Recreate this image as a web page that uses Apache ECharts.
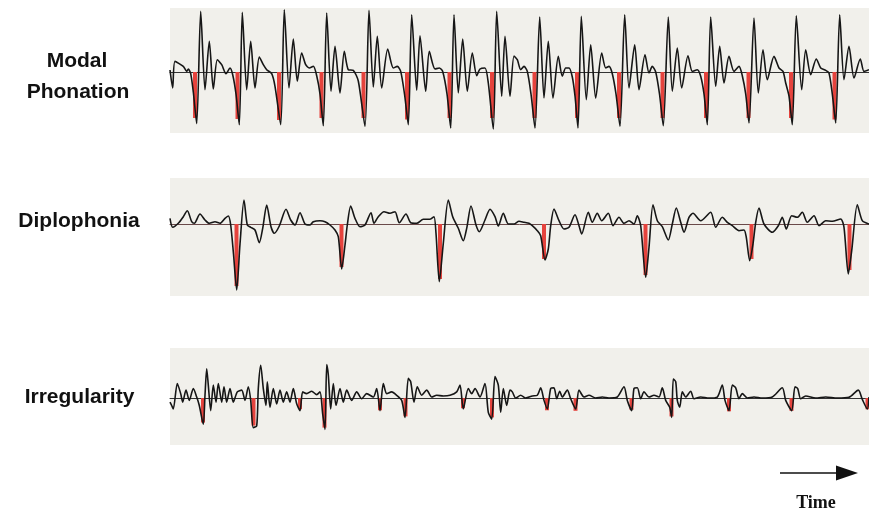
<!DOCTYPE html>
<html>
<head>
<meta charset="utf-8">
<script src="https://cdn.jsdelivr.net/npm/echarts@6/dist/echarts.min.js"></script>
<style>html,body{margin:0;padding:0;background:#fff}#c{width:869px;height:512px}</style>
</head>
<body>
<div id="c"></div>
<script>
// Panel labels
const panelLabels = [["Modal", "Phonation"], ["Diplophonia"], ["Irregularity"]];
const timeLabel = "Time";

// Modal phonation waveform [time, amplitude]
const modalWave = [[170,2],[172.7,-16],[175,10.6],[183.3,5.6],[186.7,0.6],[188.3,3],[190.7,-1.7],[193.3,-20],[196.7,-51.7],[200.7,60.6],[205,-17.7],[209.3,30.6],[213.3,-17],[217.3,12.3],[221.7,7.3],[226,-1.7],[230,4],[232.7,-2.7],[236,-22],[239.3,-52.7],[242.3,59.6],[246.7,-17.7],[250.7,30.6],[255,-16],[259.3,15],[263.3,7.3],[266.7,2.3],[271.7,-1.7],[275,-14.3],[280.7,-52.7],[284.3,62.3],[289,-16],[293.3,33],[297.3,-9.3],[301.7,19],[305.7,7.3],[309.3,4],[313.3,5.7],[316.7,-3.7],[320,-22],[323.3,-53.7],[326.7,59],[331,-19.3],[335,25.6],[340,-21],[344.3,20.6],[348.3,2.3],[353.3,1.6],[358.3,-9],[365,-54.3],[369,61.6],[373.3,-15],[377.3,35.6],[381.7,-16],[387.7,23],[393.3,4],[397.3,5.6],[400.7,0.6],[404.5,-22],[408.3,-52.7],[411.7,57.3],[416.7,-18.3],[420,36.3],[425.7,-19.3],[429.3,20.6],[435,3],[439.3,4],[442.7,0.6],[447,-22],[450.7,-56],[454,57.3],[458.3,-21],[462.7,33],[467.3,-19.3],[472.3,19],[476.7,-3.7],[480,3],[485,4],[488.3,-11],[493.3,-57],[496.7,60.6],[501.7,-24.3],[505,35.6],[510,-24.3],[514,16],[517.3,12.3],[520.7,2.3],[524,5.6],[527.3,0.6],[531,-22],[535,-56],[539.7,55],[544,-26],[548.3,30.6],[553,-26],[558.3,15.6],[562.3,-4.3],[565.7,4],[569,4],[572.3,-5],[575,-24],[578,-56],[581.3,55.6],[586.3,-27.7],[590.7,27.3],[595.7,-26],[601.7,19],[605.7,4],[609,5.6],[612.3,-1.7],[616,-22],[620,-54.3],[624.7,57.3],[629,-16],[634.7,27.3],[639,-17.7],[645,17.3],[649,-1],[652.3,5.6],[655.7,0],[659.5,-22],[663.3,-53.7],[668.3,55],[672.3,-19.3],[677.3,24],[681.7,-16],[688,16.3],[692.3,0.6],[697.3,2.3],[700.7,-4.3],[704,-22],[707.3,-52.7],[710.7,55],[715.7,-14.3],[719.7,25.6],[724,-11],[729,15.6],[734,0.6],[739,5.6],[742.3,-3.7],[745.7,-22],[749,-51],[754,54],[758.3,-21],[763,22.3],[767.3,-7.7],[774,15.6],[779,4],[783,0.6],[785.7,-11],[789,-24],[792.3,-52.7],[796.3,56.3],[801.7,-17.7],[805.7,22.3],[810.7,-2.7],[816.3,13],[820.7,4],[825.7,1.6],[829,-1],[832.3,-22],[835.7,-51],[839.7,57.3],[844,-7.7],[849,25.6],[854,-6],[860.3,13],[864,0.6],[869,2.3]];
const modalSpikes = [[195,-46],[237.5,-47],[279,-48],[321.5,-46],[363.5,-46],[407,-47.5],[449.5,-46],[492,-46],[534.5,-46],[577,-46],[619,-46],[662.5,-46],[706,-46],[748.5,-46],[791,-46],[834.5,-47.5]];

// Diplophonia waveform
const diploWave = [[170,5.7],[172.7,-3.3],[178.3,0.7],[183.3,7.3],[187.3,13.3],[191.7,2.3],[194.3,0.7],[200,10],[205,4],[209.3,0.7],[215,2.3],[220,0.7],[225,5.7],[228.3,8],[230.7,-1],[233.5,-30],[236.7,-66],[240,-20],[244,24],[247.3,-1],[250.7,-3.3],[255,-6],[259.3,-18.7],[262.7,-4.3],[266.7,19],[271,-2.7],[274.3,-9.3],[279.3,-2],[286,14.7],[290.7,4],[295,-1],[300,11.3],[305,0],[310,-1],[313.3,2.3],[320,3.3],[325,2.3],[330,-1],[335,-6],[338.3,-12.7],[341.7,-45],[345,-21],[347.3,-1],[350.7,18],[355,5.7],[360,-2.7],[365,-1],[371,11.3],[374,0.7],[378.3,7.3],[384,12.3],[390,10.7],[395,12.3],[399.3,1.3],[406,10],[410.7,1.3],[416.7,0.7],[423.3,4.7],[430,4.7],[434,7.3],[436,-9.3],[439.3,-57.7],[443.3,-19.3],[448.3,24],[452.7,7.3],[458.3,-4.3],[463.3,-16.7],[466.7,-4.3],[471,18],[476,-1],[479.3,-7.7],[485,4],[490,14.7],[495,7.3],[498.3,-2],[503.3,10.7],[508.3,0],[514,0],[519,2.7],[524,1.7],[529,0.7],[532.3,-1.7],[537.3,-6.7],[540.7,-11.7],[545,-36],[548.3,-25],[550.7,-1.7],[554,15],[559,3.3],[564,-5],[569,-3.3],[575,9.3],[579,-1.7],[581.7,-10],[588.3,11.7],[592.3,1.7],[597.3,10.7],[601.7,3.3],[608.3,10.7],[613,-1.7],[619,6.7],[624,0.7],[629,3.3],[634,0],[637.3,8.3],[640.7,-1.7],[645.7,-53.3],[649,-23.3],[653,19.3],[657.3,3.3],[662.3,-2.7],[668.3,-16],[672.3,0],[676.3,16],[680.7,1.7],[684,-8.3],[689,6.7],[693,10.7],[700.7,3.3],[710.7,11.7],[715.7,-3.3],[722.3,6.7],[727.3,1.7],[732.3,-1.7],[739,-6.7],[744,-6],[746.3,-13.3],[749.7,-36.7],[753,-20],[755.7,1.7],[759,16],[764,0],[772.3,-8.3],[778.3,-1.7],[782.3,6.7],[786.3,-5],[791.7,8.3],[797.3,6.7],[802.3,11.7],[807.3,1.7],[814,8.3],[819,-1.7],[825.7,3.3],[832.3,2.7],[840.7,5],[844,-3.3],[848.3,-50],[851.7,-26.7],[857.3,19.3],[862.3,3.3],[869,0]];
const diploSpikes = [[236.5,-62],[341.5,-43],[440,-55],[544,-35],[645.5,-51],[751.5,-35],[849.5,-46]];

// Irregularity waveform
const irregWave = [[170,-4],[171.7,-7.3],[173.3,-10.7],[177.3,14.3],[180.7,4.3],[182.7,-4],[186,7.7],[189.3,-2.3],[193.3,9.3],[196.7,1],[199.3,-7.3],[203.3,-25.7],[205,2.7],[206.7,28.7],[208.3,12.7],[210.7,-12.3],[213.3,12.7],[216,-4],[218.3,14.3],[221.7,-4],[224,11],[226.7,-4],[230,9.3],[233.3,-4],[237.3,6],[241.7,7.7],[245,-2.3],[248.3,11],[250.7,-2.3],[253.3,-29],[256.7,-27.3],[258.3,9.3],[260.7,32],[263.3,9.3],[266,-7.3],[267.3,16],[270,-9],[273.3,9.3],[276.7,-5.7],[280,7.7],[283.3,-4],[286.7,6],[290,-4],[293.3,9.3],[296.7,-5.7],[300,-12.3],[302.7,6],[306.7,4.3],[311.7,6.7],[316.7,3.3],[320,6],[322.7,-15.7],[325,-30.7],[326.7,32.7],[328.3,22.7],[330.7,-10.7],[333.3,14.3],[336,-7.3],[340,9.3],[343.3,-4],[346.7,7.7],[351.7,-2.3],[356.7,6],[361.7,-0.7],[366.7,4.3],[373.3,1],[376.7,9.3],[380,-12.3],[383.3,14.3],[386.7,4.3],[391.7,6],[396.7,2.7],[401.7,-2.3],[405,-19],[408.3,19.3],[410.7,16],[414,-4],[417.3,11],[421.7,2.7],[426.7,7.7],[431.7,1],[436.7,2.7],[443.3,2],[450,2.7],[456.7,6],[460,12.7],[463.3,-10.7],[468.3,9.3],[471.7,4.3],[475,9.3],[480,1],[485,14.3],[488.3,-14],[491.7,-20.7],[495,21],[498.3,12.7],[500.7,-14],[503.3,9.3],[506.7,-7.3],[510,7.7],[512.3,6],[515.7,0],[520.7,2.7],[525.7,0],[532.3,2],[537.3,2.7],[540.7,10],[544,-2.3],[547.3,-10.7],[550.7,9.3],[554,10],[556.7,-0.7],[559.7,6.7],[562.3,1],[567.3,7.7],[570.7,-0.7],[575.7,-10.7],[579,7.7],[584,1],[589,2.7],[595.7,0],[602.3,1],[609,0],[617.3,1],[624,11],[627.3,-2.3],[631.7,-12.3],[634,9.3],[637.3,10],[640.7,-0.7],[644,6],[649,1],[654,2.7],[659,1],[662.3,10],[665.7,-2.3],[669.7,-9],[671.7,-19],[673.3,18.7],[675.7,16],[677.3,-2.3],[679.7,-9],[682.3,6],[685.7,1],[690.7,6.7],[694,-0.7],[700.7,1],[709,0],[717.3,1],[722.3,12.7],[725,-2.3],[729,-12.3],[732.3,12.7],[735.7,10],[739,-0.7],[742.3,4.3],[747.3,0],[754,1],[762.3,0],[772.3,1],[782.3,10],[785.7,-2.3],[791.7,-12.3],[795,11],[797.7,9.3],[800.7,-0.7],[805.7,2],[815.7,0],[825.7,1],[837.3,0],[849,0.7],[858.3,7.7],[862.3,-1.3],[867.3,-10.7],[869,1]];
const irregSpikes = [[203,-24],[253.5,-27],[300,-11],[324.5,-29],[380,-12],[405.5,-18],[463,-10],[492,-19],[547,-12],[575.5,-12.5],[631.5,-11.5],[671.5,-18],[729,-13],[791.5,-12.5],[867.5,-11]];

const waves = [modalWave, diploWave, irregWave];
const spikes = [modalSpikes, diploSpikes, irregSpikes];
const yRanges = [[-61, 64], [-72, 46], [-46, 49]];
const gridBoxes = [{top: 8, height: 125}, {top: 178, height: 118}, {top: 348, height: 97}];
const baseColors = ['#333', '#6a4a4a', '#333'];

const chart = echarts.init(document.getElementById('c'), null, {renderer: 'canvas'});
const grid = [], xAxis = [], yAxis = [], series = [];
for (let i = 0; i < 3; i++) {
  grid.push({left: 170, right: 0, top: gridBoxes[i].top, height: gridBoxes[i].height,
    show: true, backgroundColor: '#f1f0eb', borderWidth: 0});
  xAxis.push({type: 'value', gridIndex: i, min: 170, max: 869,
    axisLine: {show: true, onZero: true, lineStyle: {color: baseColors[i], width: 1}},
    axisTick: {show: false}, axisLabel: {show: false}, splitLine: {show: false}});
  yAxis.push({type: 'value', gridIndex: i, min: yRanges[i][0], max: yRanges[i][1],
    show: false, splitLine: {show: false}});
  series.push({type: 'bar', xAxisIndex: i, yAxisIndex: i, data: spikes[i], barWidth: 4,
    itemStyle: {color: '#e5433d'}, silent: true, z: 2});
  series.push({type: 'line', xAxisIndex: i, yAxisIndex: i, data: waves[i], showSymbol: false,
    smooth: 0.25, lineStyle: {color: '#161616', width: 1.6}, silent: true, z: 3});
}

const labelFont = 'bold 21px Liberation Sans, Arial, sans-serif';
const graphic = [
  {type: 'text', x: 77, y: 61, style: {text: panelLabels[0][0], font: labelFont, fill: '#111', align: 'center', verticalAlign: 'middle'}},
  {type: 'text', x: 78, y: 92, style: {text: panelLabels[0][1], font: labelFont, fill: '#111', align: 'center', verticalAlign: 'middle'}},
  {type: 'text', x: 79, y: 221, style: {text: panelLabels[1][0], font: labelFont, fill: '#111', align: 'center', verticalAlign: 'middle'}},
  {type: 'text', x: 79.5, y: 397, style: {text: panelLabels[2][0], font: labelFont, fill: '#111', align: 'center', verticalAlign: 'middle'}},
  {type: 'line', shape: {x1: 780, y1: 473, x2: 840, y2: 473}, style: {stroke: '#111', lineWidth: 1.5}},
  {type: 'polygon', shape: {points: [[836, 465.5], [858, 473], [836, 480.5]]}, style: {fill: '#111'}},
  {type: 'text', x: 816, y: 503, style: {text: timeLabel, font: 'bold 18px Liberation Serif, Times New Roman, serif', fill: '#111', align: 'center', verticalAlign: 'middle'}}
];

chart.setOption({animation: false, backgroundColor: '#ffffff', grid, xAxis, yAxis, series, graphic});
</script>
</body>
</html>
